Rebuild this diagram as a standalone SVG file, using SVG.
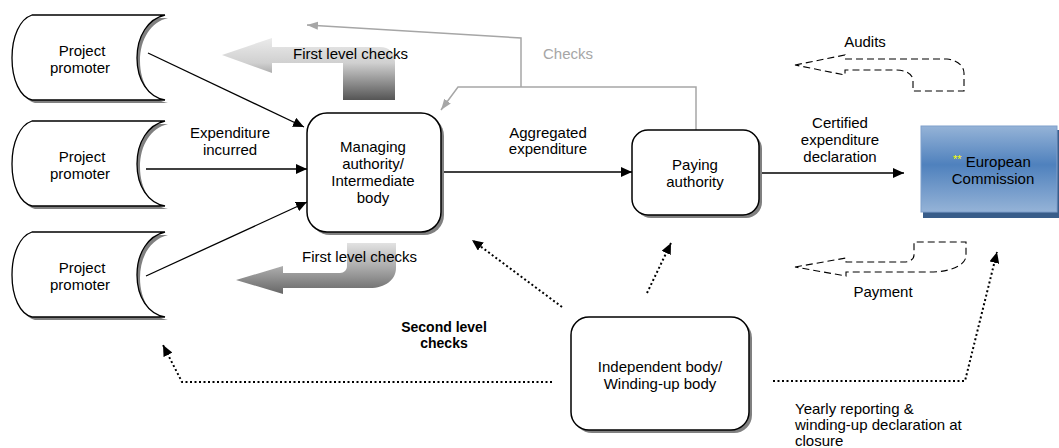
<svg xmlns="http://www.w3.org/2000/svg" width="1059" height="448" viewBox="0 0 1059 448">
<defs>
<style>
text{font-family:"Liberation Sans",Arial,sans-serif;font-size:15px;fill:#000}
.c{text-anchor:middle}
.b{font-weight:bold;font-size:14px}
.g{fill:#A6A6A6}
.box{fill:#fff;stroke:#000;stroke-width:1.5}
.sh{fill:#808080}
.pp{fill:#fff;stroke:#000;stroke-width:1.3}
.ln{fill:none;stroke:#000;stroke-width:1.3}
.dot{fill:none;stroke:#000;stroke-width:2;stroke-dasharray:2 2.5}
.gl{fill:none;stroke:#A6A6A6;stroke-width:1.5}
.dash{fill:none;stroke:#000;stroke-width:1.1;stroke-dasharray:7 4}
</style>
<marker id="ah" markerUnits="userSpaceOnUse" markerWidth="12" markerHeight="10" refX="11" refY="5" orient="auto"><path d="M0,0 L11,5 L0,10 Z" fill="#000"/></marker>
<marker id="ag" markerUnits="userSpaceOnUse" markerWidth="12" markerHeight="10" refX="11" refY="5" orient="auto"><path d="M0,1 L11,5 L0,9 Z" fill="#A6A6A6"/></marker>
<linearGradient id="gt" gradientUnits="userSpaceOnUse" x1="0" y1="38" x2="0" y2="100"><stop offset="0" stop-color="#EBEBEB"/><stop offset="0.4" stop-color="#D0D0D0"/><stop offset="1" stop-color="#555"/></linearGradient>
<linearGradient id="gb" gradientUnits="userSpaceOnUse" x1="0" y1="243" x2="0" y2="294"><stop offset="0" stop-color="#E2E2E2"/><stop offset="0.5" stop-color="#A8A8A8"/><stop offset="1" stop-color="#666"/></linearGradient>
<linearGradient id="ec" x1="0" y1="0" x2="0" y2="1"><stop offset="0" stop-color="#95B3D7"/><stop offset="0.45" stop-color="#4F81BD"/><stop offset="1" stop-color="#95B3D7"/></linearGradient>
<path id="pps" d="M32,15 H165 C148,19 137,36 137,58 C137,80 148,97 165,100 H32 C20,97 12,80 12,58 C12,36 20,19 32,15 Z"/>
</defs>

<g id="block-arrows">
<path d="M222,55 L272,38 L272,47 L380,47 C389,47 395,53 395,62 L395,100 L343,100 L343,63 L272,63 L272,73 Z" fill="url(#gt)"/>
<path d="M236,280 L283,266 L283,273 L340,273 C344,273 347,270 347,266 L347,243 L396,243 L396,268 C396,280 385,288 370,288 L283,288 L283,294 Z" fill="url(#gb)"/>
<path d="M795,65 L845,55 L845,59 L947,59 C957,60 964,66 964,73 L964,91 L913,91 L913,79 C911,73 905,70 895,70 L845,70 L845,75 Z" class="dash"/>
<path d="M795,267 L846,258 L846,262 L904,262 C910,262 914,259 914,255 L914,242 L966,242 L966,257 C964,266 950,272 930,272 L846,272 L846,276 Z" class="dash"/>
</g>

<g id="connectors">
<line x1="148" y1="53" x2="304" y2="127" class="ln" marker-end="url(#ah)"/>
<line x1="146" y1="169" x2="307" y2="169" class="ln" marker-end="url(#ah)"/>
<line x1="146" y1="276" x2="307" y2="202" class="ln" marker-end="url(#ah)"/>
<line x1="441" y1="172" x2="632" y2="172" class="ln" marker-end="url(#ah)"/>
<line x1="759" y1="173" x2="904" y2="173" class="ln" marker-end="url(#ah)"/>
<path d="M696,130 V87 H458 L441,110" class="gl" marker-end="url(#ag)"/>
<path d="M521,87 V38 L307,25" class="gl" marker-end="url(#ag)"/>
<path d="M562,307 L472,240" class="dot" marker-end="url(#ah)"/>
<path d="M647,293 L671,243" class="dot" marker-end="url(#ah)"/>
<path d="M552,382 H182 L163,345" class="dot" marker-end="url(#ah)"/>
<path d="M773,381 H965 L997,252" class="dot" marker-end="url(#ah)"/>
</g>

<g id="promoter-1">
<use href="#pps" class="sh" x="3" y="3"/>
<use href="#pps" class="pp"/>
<text class="c" x="82" y="56">Project</text>
<text class="c" x="80" y="73">promoter</text>
</g>
<g id="promoter-2" transform="translate(0,106)">
<use href="#pps" class="sh" x="3" y="3"/>
<use href="#pps" class="pp"/>
<text class="c" x="82" y="56">Project</text>
<text class="c" x="80" y="73">promoter</text>
</g>
<g id="promoter-3" transform="translate(0,217)">
<use href="#pps" class="sh" x="3" y="3"/>
<use href="#pps" class="pp"/>
<text class="c" x="82" y="56">Project</text>
<text class="c" x="80" y="73">promoter</text>
</g>

<g id="managing-authority">
<rect x="310" y="116" width="134" height="119" rx="20" class="sh"/>
<rect x="307" y="113" width="134" height="119" rx="20" class="box"/>
<text class="c" x="373" y="152">Managing</text>
<text class="c" x="373" y="169">authority/</text>
<text class="c" x="373" y="186">Intermediate</text>
<text class="c" x="373" y="203">body</text>
</g>

<g id="paying-authority">
<rect x="635" y="133" width="127" height="85" rx="16" class="sh"/>
<rect x="632" y="130" width="127" height="85" rx="16" class="box"/>
<text class="c" x="695" y="170">Paying</text>
<text class="c" x="695" y="187">authority</text>
</g>

<g id="european-commission">
<rect x="923" y="130" width="136" height="88" fill="#385D8A"/>
<rect x="921" y="126" width="136" height="86" fill="url(#ec)" stroke="#7F9FCB" stroke-width="1"/>
<text x="953" y="167"><tspan fill="#FFFF00" font-size="11" dy="-4">**</tspan><tspan dy="4"> European</tspan></text>
<text class="c" x="993" y="184">Commission</text>
</g>

<g id="independent-body">
<rect x="574" y="320" width="178" height="113" rx="18" class="sh"/>
<rect x="571" y="317" width="178" height="113" rx="18" class="box"/>
<text class="c" x="660" y="372">Independent body/</text>
<text class="c" x="660" y="389">Winding-up body</text>
</g>

<g id="labels">
<text x="293" y="59">First level checks</text>
<text x="302" y="262">First level checks</text>
<text x="543" y="59" class="g">Checks</text>
<text class="c" x="865" y="47">Audits</text>
<text class="c" x="883" y="297">Payment</text>
<text class="c" x="230" y="138">Expenditure</text>
<text class="c" x="230" y="155">incurred</text>
<text class="c" x="548" y="138">Aggregated</text>
<text class="c" x="548" y="154">expenditure</text>
<text class="c" x="840" y="128">Certified</text>
<text class="c" x="840" y="145">expenditure</text>
<text class="c" x="840" y="162">declaration</text>
<text class="c b" x="444" y="332">Second level</text>
<text class="c b" x="444" y="348">checks</text>
<text x="795" y="414">Yearly reporting &amp;</text>
<text x="795" y="430">winding-up declaration at</text>
<text x="795" y="446">closure</text>
</g>
</svg>
